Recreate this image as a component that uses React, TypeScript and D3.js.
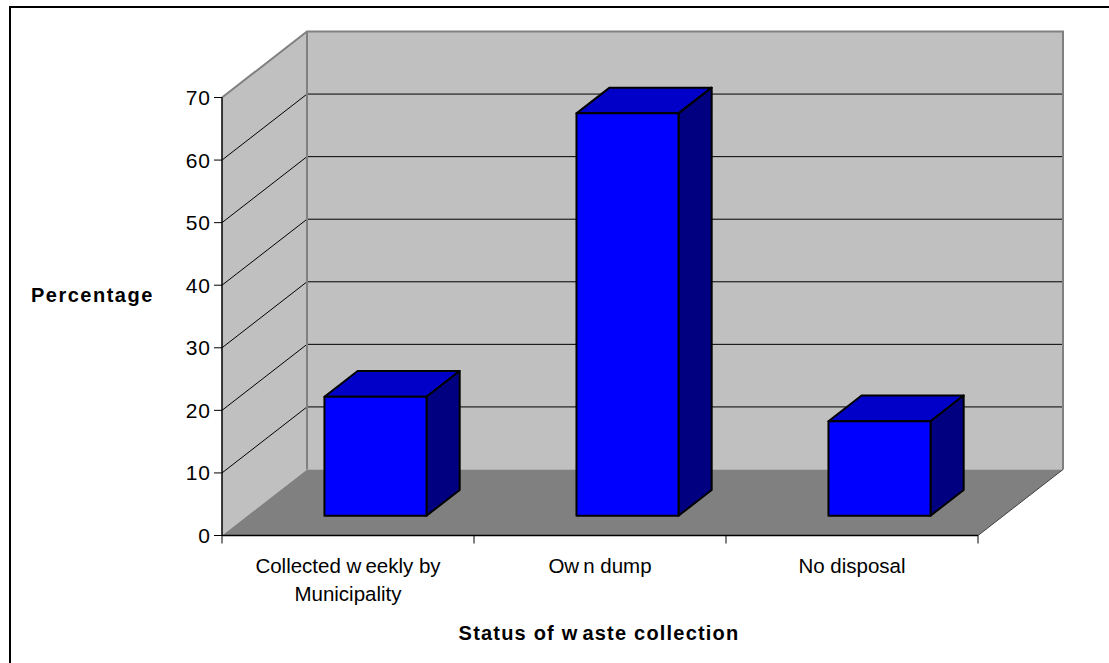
import * as d3 from 'd3'

// values (percent)
const categories = ['Collected weekly by Municipality', 'Own dump', 'No disposal']
const categoryLines = [['Collected weekly by', 'Municipality'], ['Own dump'], ['No disposal']]
const values = [19, 64.3, 15.1]
const yTicks = [0, 10, 20, 30, 40, 50, 60, 70]
const yTitle = 'Percentage'
const xTitle = 'Status of waste collection'

const W = 1109
const H = 663

// front plane of the 3D box
const X0 = 222
const X1 = 978
const Y0 = 535.5
const Y70 = 97.5
// full depth offset of the floor/walls
const DX = 85
const DY = -66

const FONT = 'Arial, "Liberation Sans", sans-serif'

// Excel export leaves a gap after "w"; mimic it without changing the text
function spaced(str: string) {
  const parts = str.split('w')
  return parts.map((p, i) => (
    <tspan key={i} dx={i > 0 ? 4 : 0}>{i < parts.length - 1 ? p + 'w' : p}</tspan>
  ))
}

export default function App() {
  const y = d3.scaleLinear().domain([0, 70]).range([Y0, Y70])
  const x = d3.scaleBand<string>().domain(categories).range([X0, X1])
  const depth = d3.scaleLinear().domain([0, 1]).range([0, 1])
  const dx = (t: number) => depth(t) * DX
  const dy = (t: number) => depth(t) * DY

  const bw = x.bandwidth()
  const barW = bw * 0.405
  const front = 0.3
  const back = 0.69

  const yTop = y(70)
  const backL = X0 + DX
  const backR = X1 + DX

  const grid = yTicks.filter((t) => t > 0 && t < 70)

  return (
    <svg width={W} height={H} style={{ position: 'fixed', left: 0, top: 0, background: '#fff' }}>
      {/* outer chart-area border (only top/left fall inside the picture) */}
      <rect x={10} y={7} width={1130} height={700} fill="#fff" stroke="#000" strokeWidth={2} />

      {/* back wall */}
      <rect x={backL} y={yTop + DY} width={backR - backL} height={Y0 - yTop} fill="#c0c0c0" />
      {/* side wall */}
      <polygon
        points={`${X0},${yTop} ${backL},${yTop + DY} ${backL},${Y0 + DY} ${X0},${Y0}`}
        fill="#c0c0c0"
      />
      {/* floor */}
      <polygon
        points={`${X0},${Y0} ${X1},${Y0} ${backR},${Y0 + DY} ${backL},${Y0 + DY}`}
        fill="#808080"
      />

      {/* gridlines */}
      {grid.map((t) => (
        <g key={t}>
          <line x1={X0} y1={y(t)} x2={backL} y2={y(t) + DY} stroke="#000" strokeWidth={1} />
          <line x1={backL} y1={y(t) + DY} x2={backR} y2={y(t) + DY} stroke="#000" strokeWidth={1} />
        </g>
      ))}

      {/* wall edges */}
      <polyline
        points={`${X0},${yTop} ${backL},${yTop + DY} ${backR},${yTop + DY} ${backR},${Y0 + DY}`}
        fill="none"
        stroke="#808080"
        strokeWidth={2}
      />
      <line x1={backL} y1={yTop + DY} x2={backL} y2={Y0 + DY} stroke="#808080" strokeWidth={2} />
      <line x1={X1} y1={Y0} x2={backR} y2={Y0 + DY} stroke="#404040" strokeWidth={1} />

      {/* bars */}
      {categories.map((c, i) => {
        const bx = (x(c) ?? 0) + (bw - barW) / 2 + 2 + dx(front)
        const by0 = Y0 + dy(front)
        const by1 = y(values[i]) + dy(front)
        const ox = dx(back) - dx(front)
        const oy = dy(back) - dy(front)
        return (
          <g key={c} stroke="#000" strokeWidth={2} strokeLinejoin="round">
            <polygon
              points={`${bx},${by1} ${bx + ox},${by1 + oy} ${bx + barW + ox},${by1 + oy} ${bx + barW},${by1}`}
              fill="#0000c8"
            />
            <polygon
              points={`${bx + barW},${by1} ${bx + barW + ox},${by1 + oy} ${bx + barW + ox},${by0 + oy} ${bx + barW},${by0}`}
              fill="#000080"
            />
            <rect x={bx} y={by1} width={barW} height={by0 - by1} fill="#0000ff" />
          </g>
        )
      })}

      {/* y axis */}
      <line x1={X0} y1={yTop} x2={X0} y2={Y0} stroke="#000" strokeWidth={1.5} />
      {yTicks.map((t) => (
        <g key={t}>
          <line x1={X0 - 8} y1={y(t)} x2={X0} y2={y(t)} stroke="#000" strokeWidth={1} />
          <text
            x={X0 - 11}
            y={y(t)}
            dy="0.36em"
            textAnchor="end"
            fontFamily={FONT}
            fontSize={21}
            letterSpacing={1}
            fill="#000"
          >
            {t}
          </text>
        </g>
      ))}

      {/* x axis */}
      <line x1={X0} y1={Y0} x2={X1} y2={Y0} stroke="#000" strokeWidth={1.5} />
      {[...categories.map((c) => x(c) ?? 0), X1].map((v, i) => (
        <line key={i} x1={v} y1={Y0} x2={v} y2={Y0 + 8} stroke="#000" strokeWidth={1} />
      ))}
      {categories.map((c, i) => (
        <text
          key={c}
          x={(x(c) ?? 0) + bw / 2}
          y={566}
          textAnchor="middle"
          fontFamily={FONT}
          fontSize={20.5}
          fill="#000"
        >
          {categoryLines[i].map((line, j) => (
            <tspan key={j} x={(x(c) ?? 0) + bw / 2} dy={j === 0 ? '0.36em' : 28}>
              {spaced(line)}
            </tspan>
          ))}
        </text>
      ))}

      {/* titles */}
      <text
        x={31}
        y={295}
        dy="0.35em"
        fontFamily={FONT}
        fontSize={20}
        fontWeight="bold"
        letterSpacing={1.5}
        fill="#000"
      >
        {yTitle}
      </text>
      <text
        x={599}
        y={633}
        dy="0.35em"
        textAnchor="middle"
        fontFamily={FONT}
        fontSize={20}
        fontWeight="bold"
        letterSpacing={1.2}
        fill="#000"
      >
        {spaced(xTitle)}
      </text>
    </svg>
  )
}
